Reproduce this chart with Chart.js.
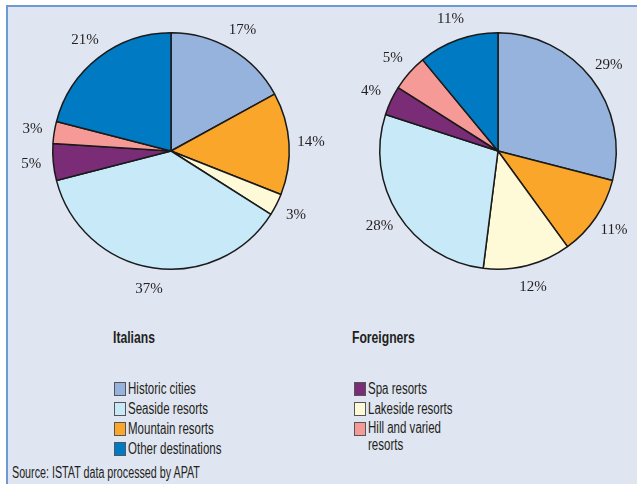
<!DOCTYPE html>
<html>
<head>
<meta charset="utf-8">
<script src="https://cdn.jsdelivr.net/npm/chart.js@4"></script>
<style>
  html, body { margin: 0; padding: 0; }
  body { width: 637px; height: 484px; overflow: hidden; position: relative; background: #fff; }
  #frame { position: absolute; left: 6px; top: 5px; width: 640px; height: 490px; background: #dfe5f1;
           border-left: 2px solid #6b9bd2; border-top: 2px solid #6b9bd2; }
  .pie { position: absolute; top: -9px; width: 320px; height: 320px; }
  .narrow { display: inline-block; transform: scaleX(0.72); transform-origin: left center; white-space: nowrap; }
  .title { position: absolute; top: 329px; font: bold 16px "Liberation Sans", Arial, sans-serif; color: #231f20; }
  .title .narrow { transform: scaleX(0.76); }
  .legend { position: absolute; top: 379px; font: 16px "Liberation Sans", Arial, sans-serif; color: #231f20; }
  .item { position: relative; height: 20px; line-height: 20px; padding-left: 14px; }
  .item.wrap { height: 17px; line-height: 17px; }
  .item span.sw { position: absolute; left: 0; top: 3px; width: 10px; height: 12px; border: 1px solid #555; }
  #source { position: absolute; left: 12px; top: 464px; font: 16px "Liberation Sans", Arial, sans-serif; color: #231f20; }
  #source .narrow { transform: scaleX(0.67); }
</style>
</head>
<body>
<div id="frame"></div>
<div class="pie" style="left:11px"><canvas id="c1"></canvas></div>
<div class="pie" style="left:338px"><canvas id="c2"></canvas></div>
<div class="title" style="left:113px"><span class="narrow">Italians</span></div>
<div class="title" style="left:352px"><span class="narrow">Foreigners</span></div>
<div class="legend" id="leg1" style="left:114px"></div>
<div class="legend" id="leg2" style="left:354px"></div>
<div id="source"><span class="narrow">Source: ISTAT data processed by APAT</span></div>
<script>
// slice order clockwise from the top
const categories = ['Historic cities', 'Mountain resorts', 'Lakeside resorts', 'Seaside resorts', 'Spa resorts', 'Hill and varied resorts', 'Other destinations']
const italians = [17, 14, 3, 37, 5, 3, 21]
const foreigners = [29, 11, 12, 28, 4, 5, 11]
const colours = ['#95b3dc', '#f9a62a', '#fef9d6', '#c8e9f8', '#7b2c77', '#f59a96', '#007bc3']

// legend columns as in the picture
const legendLeft = ['Historic cities', 'Seaside resorts', 'Mountain resorts', 'Other destinations']
const legendRight = ['Spa resorts', 'Lakeside resorts', 'Hill and varied|resorts']

function fillLegend(id, names) {
  let html = ''
  names.forEach(function (n) {
    let parts = n.split('|')
    let col = colours[categories.indexOf(parts.join(' '))]
    html += '<div class="item' + (parts.length > 1 ? ' wrap' : '') + '"><span class="sw" style="background:' + col + '"></span><span class="narrow">' + parts[0] + '</span></div>'
    for (let k = 1; k < parts.length; k++) {
      html += '<div class="item wrap"><span class="narrow">' + parts[k] + '</span></div>'
    }
  })
  document.getElementById(id).innerHTML = html
}
fillLegend('leg1', legendLeft)
fillLegend('leg2', legendRight)

const pctLabels = {
  id: 'pctLabels',
  afterDatasetsDraw(chart) {
    const ctx = chart.ctx
    const meta = chart.getDatasetMeta(0)
    const vals = chart.data.datasets[0].data
    ctx.save()
    ctx.font = '15px "Liberation Serif", "Times New Roman", serif'
    ctx.fillStyle = '#231f20'
    ctx.textAlign = 'center'
    ctx.textBaseline = 'middle'
    meta.data.forEach(function (arc, i) {
      let mid = (arc.startAngle + arc.endAngle) / 2
      let r = arc.outerRadius + 22
      ctx.fillText(vals[i] + '%', arc.x + Math.cos(mid) * r, arc.y + Math.sin(mid) * r)
    })
    ctx.restore()
  }
}

function makePie(id, values) {
  new Chart(document.getElementById(id), {
    type: 'pie',
    data: {
      labels: categories,
      datasets: [{ data: values, backgroundColor: colours, borderColor: '#1a1a1a', borderWidth: 1.5 }]
    },
    options: {
      responsive: true,
      maintainAspectRatio: false,
      animation: false,
      layout: { padding: 41 },
      plugins: { legend: { display: false }, tooltip: { enabled: false } }
    },
    plugins: [pctLabels]
  })
}
makePie('c1', italians)
makePie('c2', foreigners)
</script>
</body>
</html>
